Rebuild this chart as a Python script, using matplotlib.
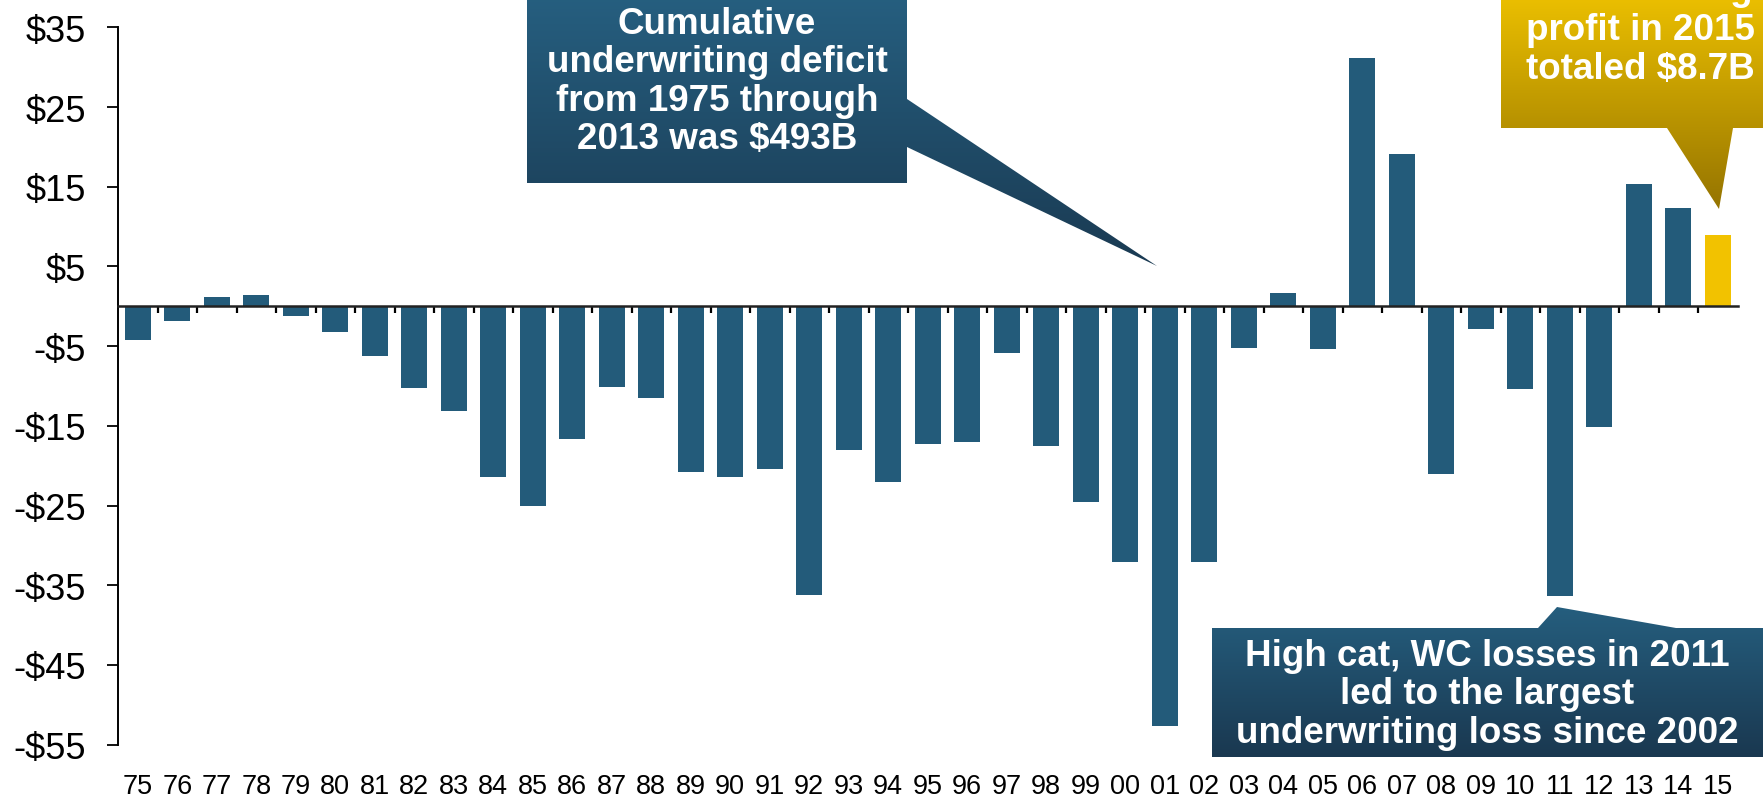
import numpy as np
import matplotlib
matplotlib.use('Agg')
import matplotlib.pyplot as plt
from matplotlib.patches import Polygon
from matplotlib.colors import LinearSegmentedColormap

# underwriting result by year, $ billions
years = ['75', '76', '77', '78', '79', '80', '81', '82', '83', '84', '85',
         '86', '87', '88', '89', '90', '91', '92', '93', '94', '95', '96',
         '97', '98', '99', '00', '01', '02', '03', '04', '05', '06', '07',
         '08', '09', '10', '11', '12', '13', '14', '15']
results = [-4.2, -1.9, 1.2, 1.45, -1.2, -3.2, -6.2, -10.3, -13.1, -21.4, -25.1,
           -16.6, -10.1, -11.5, -20.8, -21.4, -20.4, -36.2, -18.0, -22.0, -17.3, -17.0,
           -5.9, -17.5, -24.6, -32.1, -52.7, -32.1, -5.2, 1.7, -5.4, 31.2, 19.1,
           -21.0, -2.9, -10.4, -36.3, -15.2, 15.3, 12.3, 8.9]
highlight_year = '15'
ytick_values = [35, 25, 15, 5, -5, -15, -25, -35, -45, -55]

BLUE = '#235b7a'
GOLD = '#f2c200'

plt.rcParams['font.family'] = ['Liberation Sans', 'DejaVu Sans']

W, H = 1763, 803
fig = plt.figure(figsize=(W / 100, H / 100), dpi=100)
ax = fig.add_axes([118 / W, 1 - 745.7 / H, (1737.5 - 118) / W, (745.7 - 28.3) / H])

x = np.arange(len(years))
colors = [GOLD if y == highlight_year else BLUE for y in years]
ax.bar(x, results, width=0.66, color=colors, zorder=2)

ax.set_xlim(-0.5, len(years) - 0.5)
ax.set_ylim(-55, 35)
ax.set_yticks(ytick_values)
ax.set_yticklabels([f'${v}' if v >= 0 else f'-${-v}' for v in ytick_values])
ax.tick_params(axis='y', direction='out', length=8, width=1.3, labelsize=26, pad=15)

for side in ['top', 'right']:
    ax.spines[side].set_visible(False)
ax.spines['left'].set_linewidth(1.4)
ax.spines['bottom'].set_position(('data', 0))
ax.spines['bottom'].set_linewidth(1.8)
ax.spines['bottom'].set_color('#222222')
ax.spines['bottom'].set_zorder(3)

# tick marks between the bars, labels down at the bottom
ax.set_xticks(x[:-1] + 0.5)
ax.set_xticklabels([])
ax.tick_params(axis='x', direction='out', length=5, width=1.6, color='black')
for xi, lab in zip(x, years):
    ax.text(xi, -0.0576, lab, transform=ax.get_xaxis_transform(),
            ha='center', va='center', fontsize=19.5)

# callouts drawn on a pixel overlay
ov = fig.add_axes([0, 0, 1, 1], zorder=5)
ov.set_axis_off()


def callout(verts, top, bottom):
    poly = Polygon(verts, closed=True, facecolor='none', edgecolor='none')
    ov.add_patch(poly)
    xs = [v[0] for v in verts]
    ys = [v[1] for v in verts]
    cmap = LinearSegmentedColormap.from_list('g', [top, bottom])
    grad = np.linspace(0, 1, 256).reshape(-1, 1)
    im = ov.imshow(grad, extent=(min(xs), max(xs), max(ys), min(ys)),
                   aspect='auto', cmap=cmap, origin='upper', zorder=1)
    im.set_clip_path(poly)


callout([(527, -5), (907, -5), (907, 100), (1157, 267), (907, 148),
         (907, 184), (527, 184)], '#265f80', '#1a3a52')
ov.text(717, 82, 'Cumulative\nunderwriting deficit\nfrom 1975 through\n2013 was $493B',
        ha='center', va='center', color='white', fontsize=26.5,
        fontweight='bold', linespacing=1.13, zorder=2)

callout([(1501, -5), (1770, -5), (1770, 129), (1733, 129), (1719, 210),
         (1667, 129), (1501, 129)], '#ecc000', '#957400')
ov.text(1640, 30, 'Underwriting\nprofit in 2015\ntotaled $8.7B',
        ha='center', va='center', color='white', fontsize=26.5,
        fontweight='bold', linespacing=1.17, zorder=2)

callout([(1212, 629), (1538, 629), (1557, 608), (1676, 629), (1770, 629),
         (1770, 758), (1212, 758)], '#255e7e', '#1a3850')
ov.text(1487, 695, 'High cat, WC losses in 2011\nled to the largest\nunderwriting loss since 2002',
        ha='center', va='center', color='white', fontsize=26.5,
        fontweight='bold', linespacing=1.14, zorder=2)

ov.set_xlim(0, W)
ov.set_ylim(H, 0)

fig.savefig('out.png', dpi=100)
